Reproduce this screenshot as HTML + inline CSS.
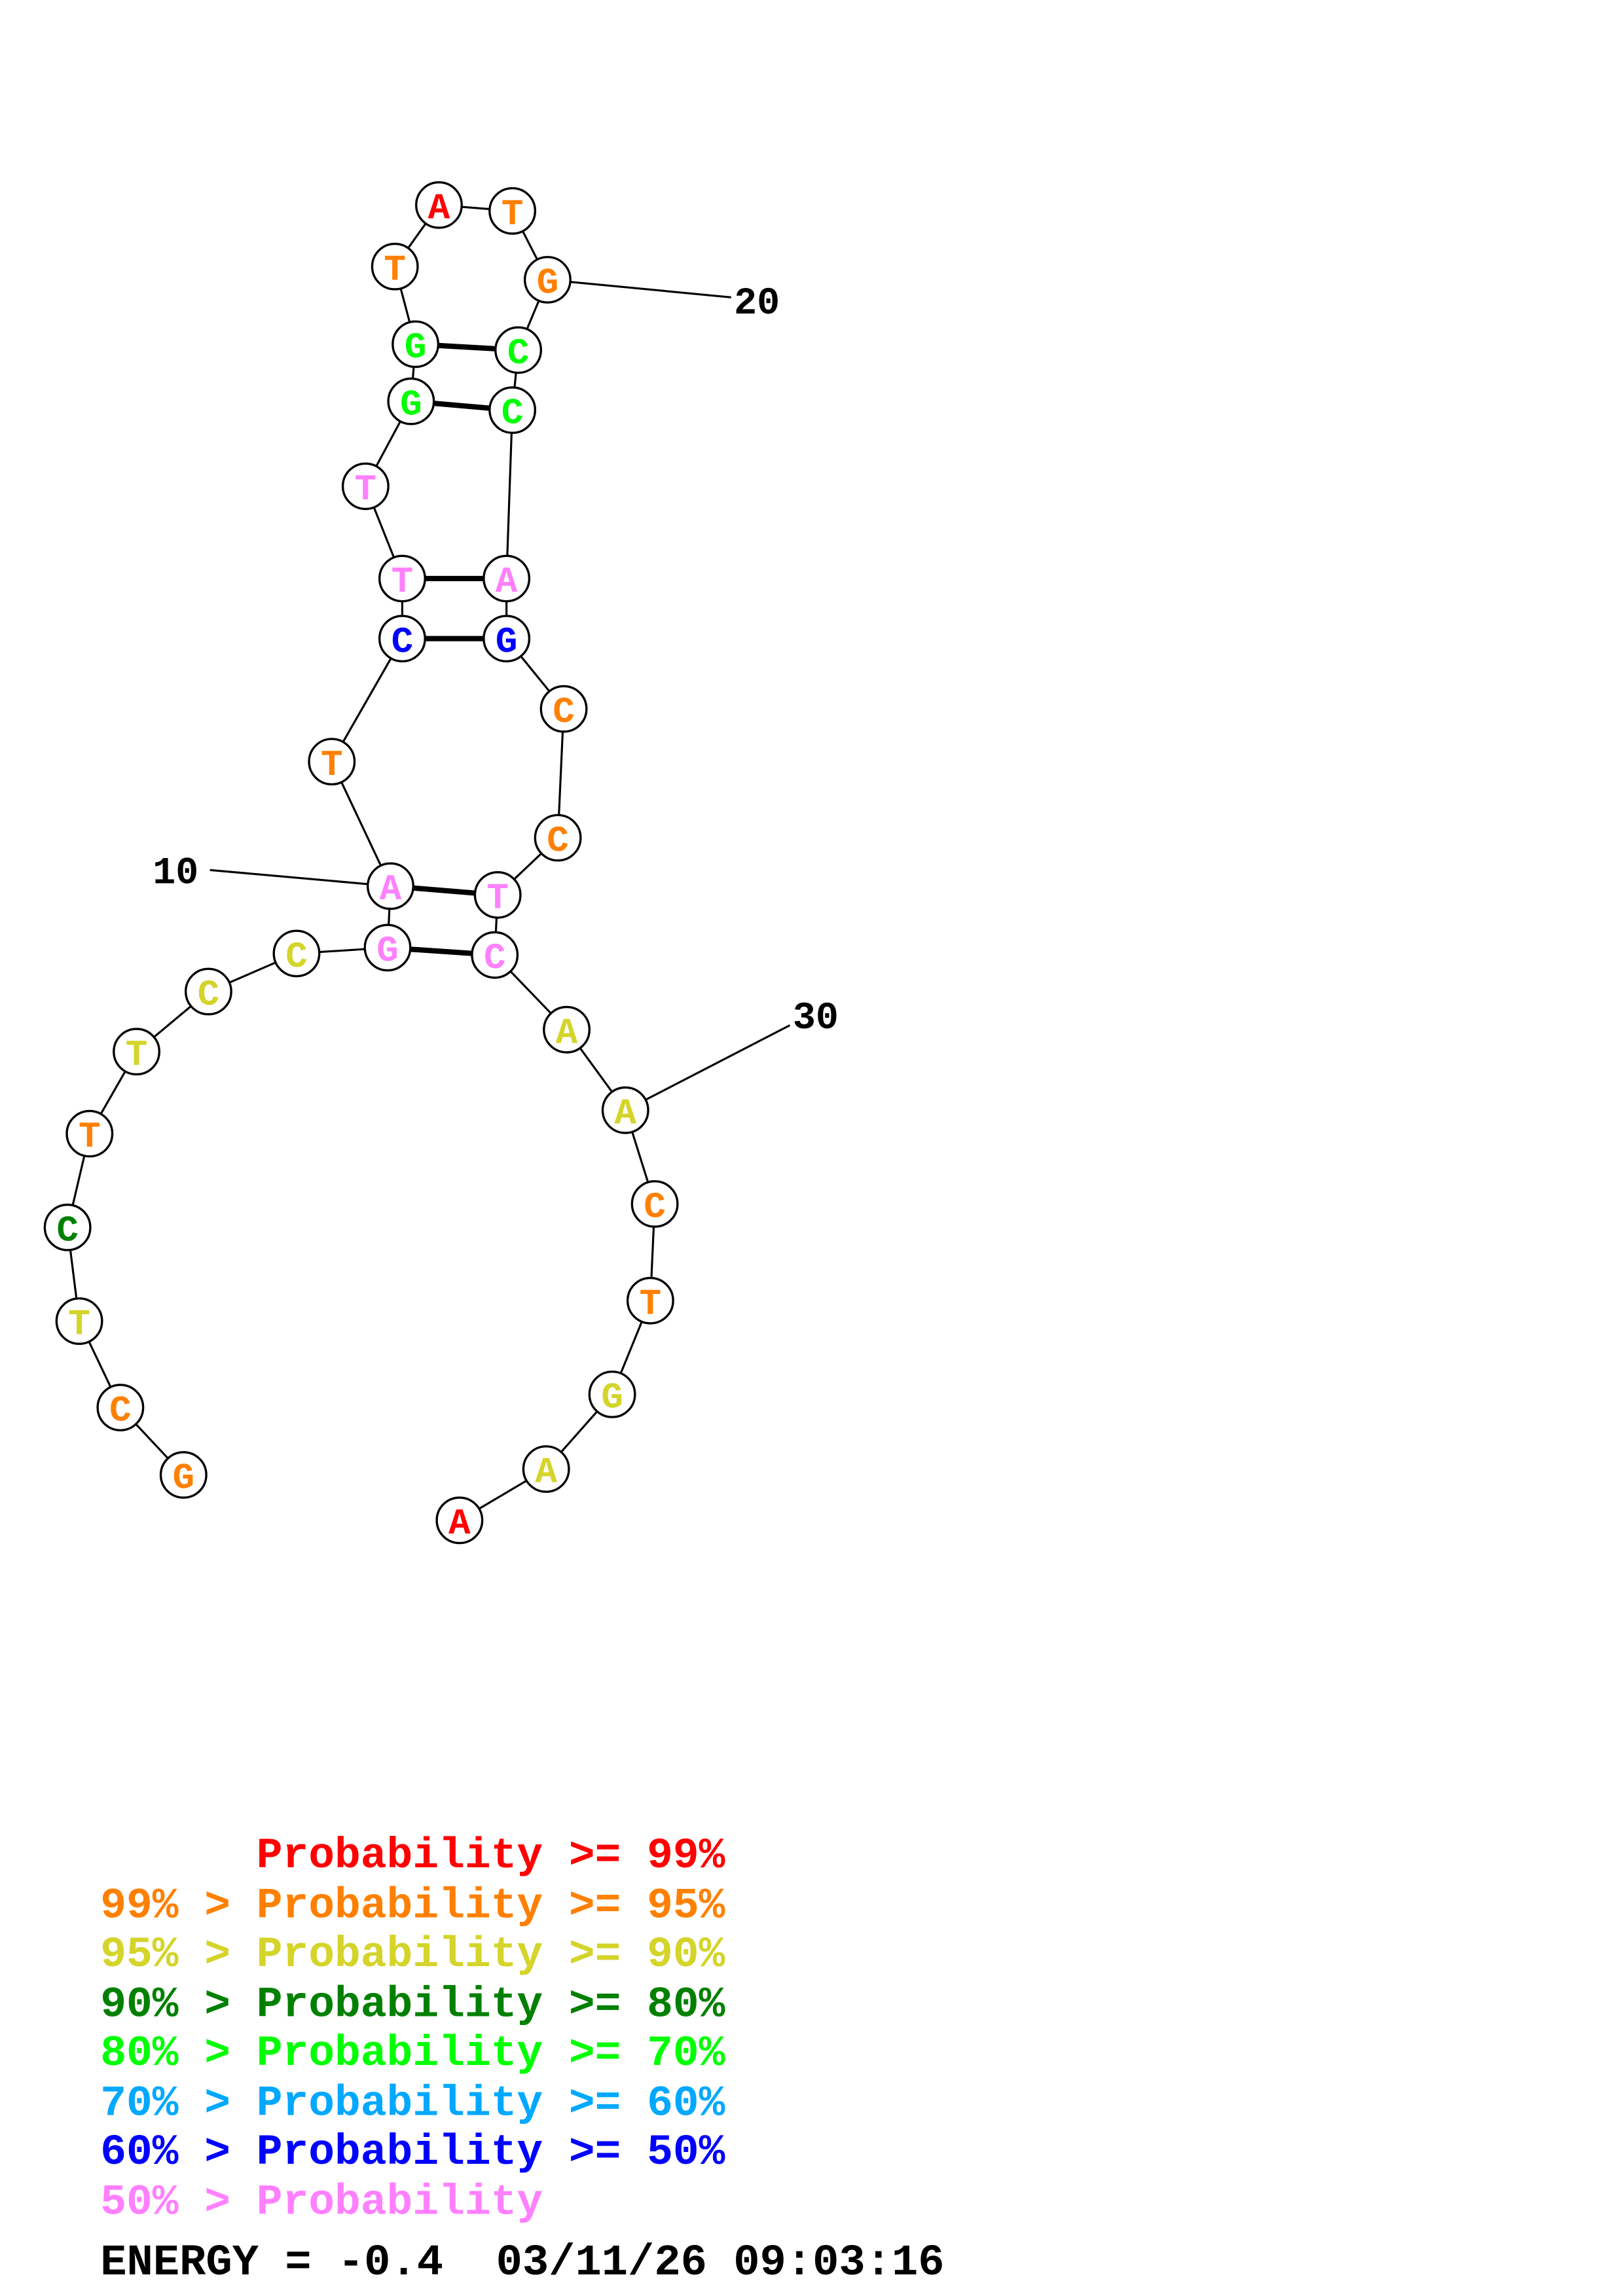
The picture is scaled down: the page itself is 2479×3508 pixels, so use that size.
<!DOCTYPE html>
<html><head><meta charset="utf-8"><style>html,body{margin:0;padding:0;background:#fff}svg{display:block}.pre text{white-space:pre}</style></head>
<body>
<svg xmlns="http://www.w3.org/2000/svg" width="2479" height="3508" viewBox="0 0 1100 1556.6">
<rect width="1100" height="1556.6" fill="#fff"/>
<g transform="scale(0.995,0.993)">
<g stroke="#000" stroke-width="1.4" fill="none">
<polyline points="125,1007 82,961 54,902 46,838 61,774 93,718 142,677 202,651 264,647 266,605 226,520 274,436 274,395 249,332 280,274 283,235 269,182 299,140 349,144 373,191 353,239 349,280 345,395 345,436 384,484 380,572 339,611 337,652 386,703 426,758 446,822 443,888 417,952 372,1003 313,1038"/>
<line x1="266" y1="605" x2="143" y2="594"/>
<line x1="373" y1="191" x2="498" y2="203"/>
<line x1="426" y1="758" x2="538" y2="700"/>
</g>
<g stroke="#000" stroke-width="3.6">
<line x1="283" y1="235" x2="353" y2="239"/>
<line x1="280" y1="274" x2="349" y2="280"/>
<line x1="274" y1="395" x2="345" y2="395"/>
<line x1="274" y1="436" x2="345" y2="436"/>
<line x1="266" y1="605" x2="339" y2="611"/>
<line x1="264" y1="647" x2="337" y2="652"/>
</g>
<g stroke="#000" stroke-width="1.5" fill="#fff">
<circle cx="125" cy="1007" r="15.5"/><circle cx="82" cy="961" r="15.5"/><circle cx="54" cy="902" r="15.5"/><circle cx="46" cy="838" r="15.5"/><circle cx="61" cy="774" r="15.5"/><circle cx="93" cy="718" r="15.5"/><circle cx="142" cy="677" r="15.5"/><circle cx="202" cy="651" r="15.5"/><circle cx="264" cy="647" r="15.5"/><circle cx="266" cy="605" r="15.5"/><circle cx="226" cy="520" r="15.5"/><circle cx="274" cy="436" r="15.5"/><circle cx="274" cy="395" r="15.5"/><circle cx="249" cy="332" r="15.5"/><circle cx="280" cy="274" r="15.5"/><circle cx="283" cy="235" r="15.5"/><circle cx="269" cy="182" r="15.5"/><circle cx="299" cy="140" r="15.5"/><circle cx="349" cy="144" r="15.5"/><circle cx="373" cy="191" r="15.5"/><circle cx="353" cy="239" r="15.5"/><circle cx="349" cy="280" r="15.5"/><circle cx="345" cy="395" r="15.5"/><circle cx="345" cy="436" r="15.5"/><circle cx="384" cy="484" r="15.5"/><circle cx="380" cy="572" r="15.5"/><circle cx="339" cy="611" r="15.5"/><circle cx="337" cy="652" r="15.5"/><circle cx="386" cy="703" r="15.5"/><circle cx="426" cy="758" r="15.5"/><circle cx="446" cy="822" r="15.5"/><circle cx="443" cy="888" r="15.5"/><circle cx="417" cy="952" r="15.5"/><circle cx="372" cy="1003" r="15.5"/><circle cx="313" cy="1038" r="15.5"/>
</g>
<g font-family="Liberation Mono, monospace" font-weight="bold" font-size="25" text-anchor="middle">
<text x="125" y="1016" fill="#ff8000">G</text><text x="82" y="970" fill="#ff8000">C</text><text x="54" y="911" fill="#d4d42a">T</text><text x="46" y="847" fill="#008000">C</text><text x="61" y="783" fill="#ff8000">T</text><text x="93" y="727" fill="#d4d42a">T</text><text x="142" y="686" fill="#d4d42a">C</text><text x="202" y="660" fill="#d4d42a">C</text><text x="264" y="656" fill="#ff80ff">G</text><text x="266" y="614" fill="#ff80ff">A</text><text x="226" y="529" fill="#ff8000">T</text><text x="274" y="445" fill="#0000ff">C</text><text x="274" y="404" fill="#ff80ff">T</text><text x="249" y="341" fill="#ff80ff">T</text><text x="280" y="283" fill="#00ff00">G</text><text x="283" y="244" fill="#00ff00">G</text><text x="269" y="191" fill="#ff8000">T</text><text x="299" y="149" fill="#ff0000">A</text><text x="349" y="153" fill="#ff8000">T</text><text x="373" y="200" fill="#ff8000">G</text><text x="353" y="248" fill="#00ff00">C</text><text x="349" y="289" fill="#00ff00">C</text><text x="345" y="404" fill="#ff80ff">A</text><text x="345" y="445" fill="#0000ff">G</text><text x="384" y="493" fill="#ff8000">C</text><text x="380" y="581" fill="#ff8000">C</text><text x="339" y="620" fill="#ff80ff">T</text><text x="337" y="661" fill="#ff80ff">C</text><text x="386" y="712" fill="#d4d42a">A</text><text x="426" y="767" fill="#d4d42a">A</text><text x="446" y="831" fill="#ff8000">C</text><text x="443" y="897" fill="#ff8000">T</text><text x="417" y="961" fill="#d4d42a">G</text><text x="372" y="1012" fill="#d4d42a">A</text><text x="313" y="1047" fill="#ff0000">A</text>
</g>
<g font-family="Liberation Mono, monospace" font-weight="bold" font-size="26" fill="#000">
<text x="104" y="603">10</text><text x="500" y="214">20</text><text x="540" y="702">30</text>
</g>
</g>
<g class="pre" font-family="Liberation Mono, monospace" font-weight="bold" font-size="29.4">
<text x="68" y="1266" fill="#ff0000">      Probability &gt;= 99%</text>
<text x="68" y="1300" fill="#ff8000">99% &gt; Probability &gt;= 95%</text>
<text x="68" y="1333" fill="#d4d42a">95% &gt; Probability &gt;= 90%</text>
<text x="68" y="1367" fill="#008000">90% &gt; Probability &gt;= 80%</text>
<text x="68" y="1400" fill="#00ff00">80% &gt; Probability &gt;= 70%</text>
<text x="68" y="1434" fill="#00a8ff">70% &gt; Probability &gt;= 60%</text>
<text x="68" y="1467" fill="#0000ff">60% &gt; Probability &gt;= 50%</text>
<text x="68" y="1501" fill="#ff80ff">50% &gt; Probability</text>
<text x="68" y="1542" fill="#000" font-size="29.8">ENERGY = -0.4  03/11/26 09:03:16</text>
</g>
</svg>
</body></html>
